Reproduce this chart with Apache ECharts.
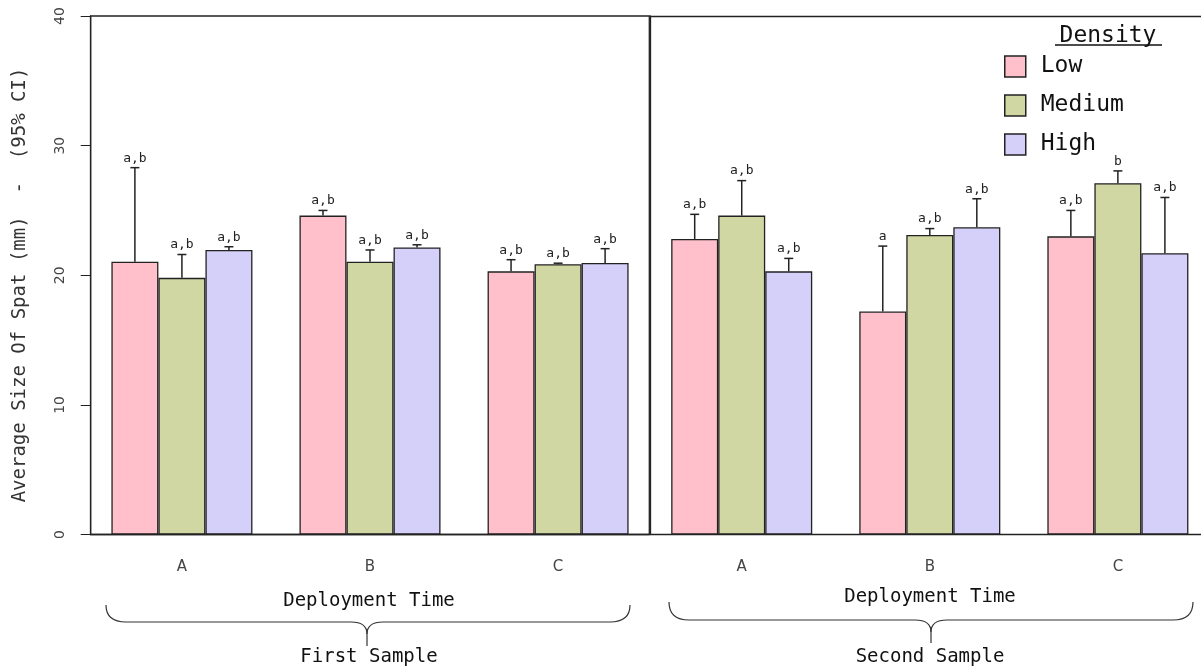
<!DOCTYPE html>
<html lang="en">
<head>
    <meta charset="UTF-8">
    <title>Average Size Of Spat</title>
    <script src="https://cdn.jsdelivr.net/npm/echarts@6/dist/echarts.min.js"></script>
    <style>
        body, html {
            margin: 0;
            padding: 0;
            width: 100%;
            height: 100%;
            overflow: hidden;
            background-color: #fff;
        }
        #chart {
            width: 1201px;
            height: 670px;
        }
    </style>
</head>
<body>
    <div id="chart"></div>
    <script>
        // categories
        var groups = ['A', 'B', 'C'];
        var densities = ['Low', 'Medium', 'High'];
        var colors = ['#FFC0CB', '#D1D7A3', '#D4D0FA'];

        // first sample: means and upper 95% CI
        var s1Low = [21.05, 24.6, 20.3];
        var s1Medium = [19.8, 21.05, 20.85];
        var s1High = [21.95, 22.15, 20.95];
        var s1LowUp = [28.3, 25.0, 21.2];
        var s1MediumUp = [21.6, 21.95, 20.93];
        var s1HighUp = [22.2, 22.35, 22.05];
        var s1LowLetters = ['a,b', 'a,b', 'a,b'];
        var s1MediumLetters = ['a,b', 'a,b', 'a,b'];
        var s1HighLetters = ['a,b', 'a,b', 'a,b'];

        // second sample
        var s2Low = [22.8, 17.2, 23.0];
        var s2Medium = [24.6, 23.1, 27.1];
        var s2High = [20.3, 23.7, 21.7];
        var s2LowUp = [24.7, 22.25, 25.0];
        var s2MediumUp = [27.3, 23.6, 28.05];
        var s2HighUp = [21.3, 25.9, 26.0];
        var s2LowLetters = ['a,b', 'a', 'a,b'];
        var s2MediumLetters = ['a,b', 'a,b', 'b'];
        var s2HighLetters = ['a,b', 'a,b', 'a,b'];

        var mono = 'DejaVu Sans Mono';
        var ink = '#222';

        // px per bar unit (first panel is 11.88 units over 558.6px);
        // second panel is cut off by the right edge of the picture
        var unit = 558.6 / 11.88;
        var xMax2 = 0.56 + (1201 - 650.5) / unit;

        // barplot layout: 3 bars per group, one empty bar between groups
        function xPos(g, k) {
            return 1 + 4 * g + k + 0.5;
        }

        function barSeries(k, means, gi) {
            return {
                type: 'bar',
                name: densities[k],
                xAxisIndex: gi,
                yAxisIndex: gi,
                barWidth: 47,
                barGap: '-100%',
                data: means.map(function (v, g) { return [xPos(g, k), v]; }),
                itemStyle: { color: colors[k], borderColor: ink, borderWidth: 1.3 },
                emphasis: { disabled: true }
            };
        }

        function ciSeries(meansList, upList, letterList, gi) {
            var rows = [], letters = [];
            for (var k = 0; k < 3; k++) {
                for (var g = 0; g < 3; g++) {
                    rows.push([xPos(g, k), meansList[k][g], upList[k][g]]);
                    letters.push(letterList[k][g]);
                }
            }
            return {
                type: 'custom',
                xAxisIndex: gi,
                yAxisIndex: gi,
                encode: { x: 0, y: [1, 2] },
                data: rows,
                z: 5,
                renderItem: function (params, api) {
                    var x = api.value(0);
                    var p0 = api.coord([x, api.value(1)]);
                    var p1 = api.coord([x, api.value(2)]);
                    var st = { stroke: ink, lineWidth: 1.5 };
                    return {
                        type: 'group',
                        children: [
                            { type: 'line', shape: { x1: p0[0], y1: p0[1], x2: p1[0], y2: p1[1] }, style: st },
                            { type: 'line', shape: { x1: p1[0] - 4.5, y1: p1[1], x2: p1[0] + 4.5, y2: p1[1] }, style: st },
                            {
                                type: 'text', x: p1[0], y: p1[1] - 3,
                                style: {
                                    text: letters[params.dataIndex], textAlign: 'center',
                                    textVerticalAlign: 'bottom', font: '13px ' + mono, fill: ink
                                }
                            }
                        ]
                    };
                }
            };
        }

        function xAxisFor(gi, xMax) {
            return {
                type: 'value', gridIndex: gi, min: 0.56, max: xMax,
                axisLine: { show: true, lineStyle: { color: ink, width: 1.3 } },
                axisTick: { show: false },
                splitLine: { show: false },
                axisLabel: {
                    customValues: [2.5, 6.5, 10.5],
                    formatter: function (v) { return groups[Math.round((v - 2.5) / 4)]; },
                    margin: 25, fontSize: 15, color: '#444', fontFamily: 'DejaVu Sans'
                }
            };
        }

        // curly brace under each panel, built from curves and lines
        function brace(x0, x1, xm, yTop, yMid, yTip) {
            var st = { stroke: '#333', lineWidth: 1.2, fill: null };
            return [
                { type: 'bezierCurve', shape: { x1: x0, y1: yTop, cpx1: x0, cpy1: yMid, x2: x0 + 20, y2: yMid }, style: st },
                { type: 'line', shape: { x1: x0 + 20, y1: yMid, x2: xm - 16, y2: yMid }, style: st },
                { type: 'bezierCurve', shape: { x1: xm - 16, y1: yMid, cpx1: xm, cpy1: yMid, x2: xm, y2: yMid + 12 }, style: st },
                { type: 'line', shape: { x1: xm, y1: yMid + 12, x2: xm, y2: yTip }, style: st },
                { type: 'bezierCurve', shape: { x1: xm + 16, y1: yMid, cpx1: xm, cpy1: yMid, x2: xm, y2: yMid + 12 }, style: st },
                { type: 'line', shape: { x1: xm + 16, y1: yMid, x2: x1 - 20, y2: yMid }, style: st },
                { type: 'bezierCurve', shape: { x1: x1 - 20, y1: yMid, cpx1: x1, cpy1: yMid, x2: x1, y2: yTop }, style: st }
            ];
        }

        var labels = [
            {
                type: 'text', x: 20, y: 285, rotation: Math.PI / 2,
                style: {
                    text: 'Average Size Of Spat (mm)  -  (95% CI)', font: '19px ' + mono,
                    fill: '#333', textAlign: 'center', textVerticalAlign: 'middle'
                }
            },
            {
                type: 'text', x: 1108, y: 25,
                style: { text: 'Density', font: '23px ' + mono, fill: '#111', textAlign: 'center' }
            },
            {
                type: 'line', shape: { x1: 1055, y1: 45, x2: 1162, y2: 45 },
                style: { stroke: '#111', lineWidth: 1.5 }
            },
            {
                type: 'text', x: 369, y: 601,
                style: { text: 'Deployment Time', font: '19px ' + mono, fill: '#111', textAlign: 'center', textVerticalAlign: 'middle' }
            },
            {
                type: 'text', x: 930, y: 597,
                style: { text: 'Deployment Time', font: '19px ' + mono, fill: '#111', textAlign: 'center', textVerticalAlign: 'middle' }
            },
            {
                type: 'text', x: 369, y: 657,
                style: { text: 'First Sample', font: '19px ' + mono, fill: '#111', textAlign: 'center', textVerticalAlign: 'middle' }
            },
            {
                type: 'text', x: 930, y: 657,
                style: { text: 'Second Sample', font: '19px ' + mono, fill: '#111', textAlign: 'center', textVerticalAlign: 'middle' }
            }
        ];

        var xAxis2Top = {
            type: 'value', gridIndex: 1, position: 'top', min: 0.56, max: xMax2,
            axisLine: { show: true, lineStyle: { color: ink, width: 1.3 } },
            axisTick: { show: false }, axisLabel: { show: false }, splitLine: { show: false }
        };

        var option = {
            backgroundColor: '#fff',
            animation: false,
            grid: [
                { left: 90.7, top: 16, width: 558.6, height: 518.5, show: true, borderColor: ink, borderWidth: 1.3 },
                { left: 650.5, top: 16, right: 0, height: 518.5, show: false }
            ],
            xAxis: [xAxisFor(0, 12.44), xAxisFor(1, xMax2), xAxis2Top],
            yAxis: [
                {
                    type: 'value', gridIndex: 0, min: 0, max: 40, interval: 10,
                    axisLine: { show: true, lineStyle: { color: ink, width: 1.3 } },
                    axisTick: { show: true, length: 10, lineStyle: { color: ink } },
                    splitLine: { show: false },
                    axisLabel: { rotate: 90, margin: 23, fontSize: 14, color: '#444', fontFamily: 'DejaVu Sans' }
                },
                {
                    type: 'value', gridIndex: 1, min: 0, max: 40, interval: 10,
                    axisLine: { show: true, lineStyle: { color: ink, width: 1.3 } },
                    axisTick: { show: false },
                    axisLabel: { show: false }, splitLine: { show: false }
                }
            ],
            legend: {
                data: densities,
                orient: 'vertical',
                left: 999, top: 50,
                itemWidth: 21, itemHeight: 21, itemGap: 16,
                icon: 'rect',
                itemStyle: { borderColor: ink, borderWidth: 1.5 },
                textStyle: { fontFamily: mono, fontSize: 23, color: '#111', padding: [0, 0, 0, 10] },
                selectedMode: false
            },
            graphic: labels.concat(brace(106, 630, 367, 605, 622, 646), brace(669, 1193, 931, 602, 620, 643)),
            series: [
                barSeries(0, s1Low, 0),
                barSeries(1, s1Medium, 0),
                barSeries(2, s1High, 0),
                barSeries(0, s2Low, 1),
                barSeries(1, s2Medium, 1),
                barSeries(2, s2High, 1),
                ciSeries([s1Low, s1Medium, s1High], [s1LowUp, s1MediumUp, s1HighUp],
                    [s1LowLetters, s1MediumLetters, s1HighLetters], 0),
                ciSeries([s2Low, s2Medium, s2High], [s2LowUp, s2MediumUp, s2HighUp],
                    [s2LowLetters, s2MediumLetters, s2HighLetters], 1)
            ]
        };

        var chart = echarts.init(document.getElementById('chart'));
        chart.setOption(option);
    </script>
</body>
</html>
